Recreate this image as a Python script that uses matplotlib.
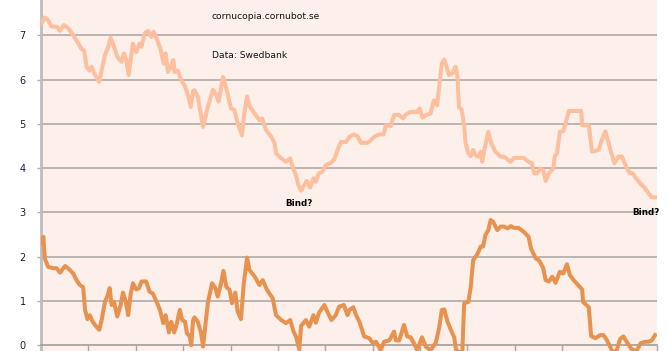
import matplotlib.pyplot as plt

# time in years from start of series (x axis is cropped in the original)
t_fixed = [0.01, 0.08, 0.15, 0.22, 0.33, 0.40, 0.48, 0.58, 0.68, 0.79, 0.86, 0.91,
           0.96, 1.02, 1.07, 1.14, 1.23, 1.28, 1.35, 1.42, 1.47, 1.52, 1.61, 1.70,
           1.75, 1.80, 1.85, 1.91, 1.94, 2.01, 2.08, 2.12, 2.19, 2.26, 2.33, 2.38,
           2.44, 2.52, 2.59, 2.63, 2.68, 2.74, 2.79, 2.82, 2.89, 2.96, 3.03, 3.10,
           3.16, 3.21, 3.24, 3.31, 3.42, 3.52, 3.63, 3.70, 3.75, 3.84, 3.91, 4.01,
           4.08, 4.15, 4.24, 4.29, 4.35, 4.40, 4.51, 4.61, 4.67, 4.75, 4.86, 4.93,
           4.96, 5.07, 5.17, 5.26, 5.31, 5.38, 5.43, 5.49, 5.56, 5.61, 5.68, 5.75,
           5.80, 5.86, 5.94, 6.01, 6.11, 6.19, 6.26, 6.33, 6.44, 6.51, 6.61, 6.68,
           6.75, 6.89, 6.96, 7.05, 7.14, 7.23, 7.28, 7.38, 7.45, 7.56, 7.64, 7.70,
           7.80, 7.94, 7.99, 8.05, 8.13, 8.22, 8.29, 8.36, 8.41, 8.46, 8.51, 8.55,
           8.61, 8.68, 8.75, 8.79, 8.82, 8.88, 8.93, 8.96, 9.02, 9.07, 9.12, 9.17,
           9.23, 9.28, 9.31, 9.37, 9.44, 9.51, 9.59, 9.70, 9.77, 9.91, 9.98, 10.19,
           10.29, 10.36, 10.41, 10.47, 10.54, 10.60, 10.65, 10.72, 10.81, 10.84,
           10.89, 10.95, 11.02, 11.07, 11.14, 11.28, 11.40, 11.42, 11.56, 11.63,
           11.77, 11.82, 11.91, 12.00, 12.10, 12.19, 12.26, 12.35, 12.42, 12.49,
           12.56, 12.65, 12.75, 12.82, 12.89, 12.96]
rate_fixed = [7.26, 7.40, 7.34, 7.20, 7.19, 7.10, 7.23, 7.15, 7.00, 6.81, 6.68, 6.66,
              6.29, 6.20, 6.29, 6.10, 5.95, 6.21, 6.55, 6.74, 6.95, 6.81, 6.51, 6.40,
              6.59, 6.44, 6.10, 6.59, 6.81, 6.62, 6.81, 6.74, 7.04, 7.10, 6.96, 7.08,
              6.92, 6.70, 6.36, 6.59, 6.17, 6.29, 6.44, 6.17, 6.20, 5.98, 5.87, 5.65,
              5.38, 5.74, 5.76, 5.61, 4.93, 5.38, 5.77, 5.65, 5.50, 6.06, 5.80, 5.35,
              5.31, 5.01, 4.74, 5.23, 5.62, 5.40, 5.23, 5.08, 5.12, 4.86, 4.71, 4.56,
              4.33, 4.22, 4.14, 4.22, 4.03, 3.84, 3.62, 3.49, 3.62, 3.71, 3.56, 3.77,
              3.69, 3.88, 3.92, 4.07, 4.11, 4.20, 4.41, 4.59, 4.59, 4.71, 4.76, 4.72,
              4.57, 4.57, 4.63, 4.72, 4.76, 4.76, 4.97, 4.95, 5.20, 5.20, 5.12, 5.21,
              5.27, 5.27, 5.35, 5.14, 5.20, 5.23, 5.53, 5.42, 5.91, 6.36, 6.45, 6.32,
              6.10, 6.14, 6.29, 6.06, 5.38, 5.31, 4.97, 4.56, 4.33, 4.27, 4.41, 4.29,
              4.26, 4.37, 4.14, 4.48, 4.82, 4.54, 4.37, 4.26, 4.26, 4.14, 4.23, 4.23,
              4.14, 4.11, 3.88, 3.88, 3.99, 3.95, 3.71, 3.88, 3.99, 4.26,
              4.33, 4.82, 4.83, 5.01, 5.29, 5.29, 5.29, 4.97, 4.97, 4.37,
              4.41, 4.59, 4.83, 4.48, 4.11, 4.26, 4.26, 4.03, 3.89, 3.88,
              3.77, 3.65, 3.54, 3.43, 3.34, 3.34]

t_spread = [0.01, 0.05, 0.08, 0.15, 0.26, 0.33, 0.40, 0.51, 0.61, 0.68, 0.75, 0.82,
            0.89, 0.93, 0.98, 1.03, 1.09, 1.17, 1.23, 1.28, 1.35, 1.40, 1.45, 1.49,
            1.54, 1.61, 1.68, 1.73, 1.79, 1.84, 1.89, 1.94, 2.01, 2.07, 2.12, 2.22,
            2.29, 2.36, 2.44, 2.51, 2.58, 2.63, 2.70, 2.75, 2.81, 2.86, 2.93, 2.98,
            3.04, 3.08, 3.14, 3.17, 3.21, 3.24, 3.31, 3.38, 3.42, 3.47, 3.52, 3.61,
            3.68, 3.73, 3.80, 3.85, 3.91, 3.98, 4.03, 4.10, 4.15, 4.22, 4.28, 4.35,
            4.40, 4.51, 4.61, 4.68, 4.77, 4.89, 4.96, 5.07, 5.17, 5.26, 5.33, 5.38,
            5.45, 5.49, 5.59, 5.66, 5.75, 5.80, 5.87, 5.98, 6.05, 6.13, 6.22, 6.29,
            6.39, 6.47, 6.51, 6.59, 6.65, 6.72, 6.82, 6.93, 7.00, 7.07, 7.17, 7.24,
            7.35, 7.45, 7.49, 7.56, 7.66, 7.73, 7.80, 7.87, 7.94, 8.04, 8.12, 8.22,
            8.33, 8.40, 8.46, 8.51, 8.58, 8.65, 8.72, 8.76, 8.89, 8.93, 9.02, 9.07,
            9.12, 9.21, 9.28, 9.33, 9.38, 9.44, 9.49, 9.54, 9.63, 9.70, 9.77, 9.85,
            9.92, 9.98, 10.08, 10.19, 10.29, 10.34, 10.44, 10.51, 10.60, 10.65,
            10.72, 10.79, 10.86, 10.95, 11.02, 11.10, 11.16, 11.24, 11.35, 11.42,
            11.44, 11.56, 11.61, 11.70, 11.80, 11.87, 11.94, 12.01, 12.08, 12.15,
            12.22, 12.29, 12.36, 12.45, 12.56, 12.66, 12.75, 12.82, 12.89, 12.96]
rate_spread = [2.30, 2.45, 1.96, 1.77, 1.74, 1.74, 1.64, 1.79, 1.70, 1.62, 1.47, 1.36,
               1.31, 0.80, 0.59, 0.68, 0.53, 0.42, 0.35, 0.57, 0.98, 1.11, 1.29, 0.91,
               0.98, 0.65, 0.91, 1.19, 0.98, 0.68, 1.14, 1.40, 1.26, 1.29, 1.44, 1.44,
               1.21, 1.17, 0.98, 0.80, 0.50, 0.68, 0.29, 0.53, 0.29, 0.46, 0.80, 0.57,
               0.53, 0.27, 0.20, 0.00, 0.57, 0.63, 0.53, 0.27, -0.03, 0.46, 0.95, 1.40,
               1.29, 1.10, 1.40, 1.68, 1.32, 1.25, 0.95, 1.19, 0.76, 0.59, 1.40, 1.98,
               1.70, 1.55, 1.36, 1.47, 1.25, 1.06, 0.68, 0.57, 0.50, 0.57, 0.31, 0.20,
               -0.09, 0.44, 0.57, 0.42, 0.68, 0.51, 0.74, 0.91, 0.74, 0.57, 0.68, 0.87,
               0.91, 0.68, 0.80, 0.86, 0.68, 0.53, 0.20, 0.16, 0.05, 0.08, -0.11, 0.08,
               0.11, 0.31, 0.11, 0.11, 0.46, 0.20, 0.18, 0.05, -0.11, 0.18, -0.03, -0.11,
               0.05, 0.38, 0.80, 0.81, 0.53, 0.35, 0.18, -0.11, -0.20, 0.95, 0.98, 1.32,
               1.92, 2.06, 2.23, 2.23, 2.49, 2.60, 2.83, 2.79, 2.60, 2.68, 2.68, 2.64,
               2.69, 2.65, 2.65, 2.56, 2.45, 2.19, 1.96, 1.92, 1.74, 1.47,
               1.44, 1.55, 1.41, 1.66, 1.62, 1.83, 1.59, 1.47, 1.34, 1.26,
               0.98, 0.86, 0.21, 0.16, 0.23, 0.23, 0.12, -0.03, -0.18, -0.11,
               0.14, 0.20, 0.08, -0.07, -0.14, 0.05, 0.08, 0.08, 0.11, 0.23]

y_ticks = [0, 1, 2, 3, 4, 5, 6, 7]

bg = '#fdf0eb'
grid_col = '#b4b0ae'

fig = plt.figure(figsize=(6.68, 3.51), dpi=100)
ax = fig.add_axes([41 / 668, 0, 616 / 668, 1])
ax.set_facecolor(bg)

ax.plot(t_fixed, rate_fixed, color='#fdbf9d', lw=2.9, solid_joinstyle='round', zorder=3)
ax.plot(t_spread, rate_spread, color='#e8924f', lw=2.9, solid_joinstyle='round', zorder=3)

ax.set_xlim(0, 13)
ax.set_ylim(-0.129, 7.795)
ax.set_yticks(y_ticks)
ax.set_xticks(range(0, 14))
ax.set_xticklabels([])
for y in y_ticks[1:]:
    ax.axhline(y, color=grid_col, lw=1.3, zorder=1)

for s in ['top', 'right']:
    ax.spines[s].set_visible(False)
ax.spines['bottom'].set_position(('data', 0))
ax.spines['bottom'].set_color('#a8a4a2')
ax.spines['bottom'].set_linewidth(1.3)
ax.spines['left'].set_color('#bdbdbd')
ax.spines['left'].set_linewidth(2)
ax.tick_params(axis='x', direction='out', length=4, color='#a8a4a2', width=1)
ax.tick_params(axis='y', direction='out', length=3, color='#b4b0ae', width=1,
               labelsize=7, labelcolor='#1c1c38', pad=8)

ax.text(3.6, 7.43, 'cornucopia.cornubot.se', fontsize=6.6, va='center', color='#111111')
ax.text(3.6, 6.55, 'Data: Swedbank', fontsize=6.6, va='center', color='#111111')
ax.text(5.45, 3.19, 'Bind?', fontsize=6.3, fontweight='bold', ha='center', va='center')
ax.text(12.48, 2.99, 'Bind?', fontsize=6.3, fontweight='bold', ha='left', va='center',
        clip_on=False)

fig.savefig('out.png', dpi=100, facecolor='white')
